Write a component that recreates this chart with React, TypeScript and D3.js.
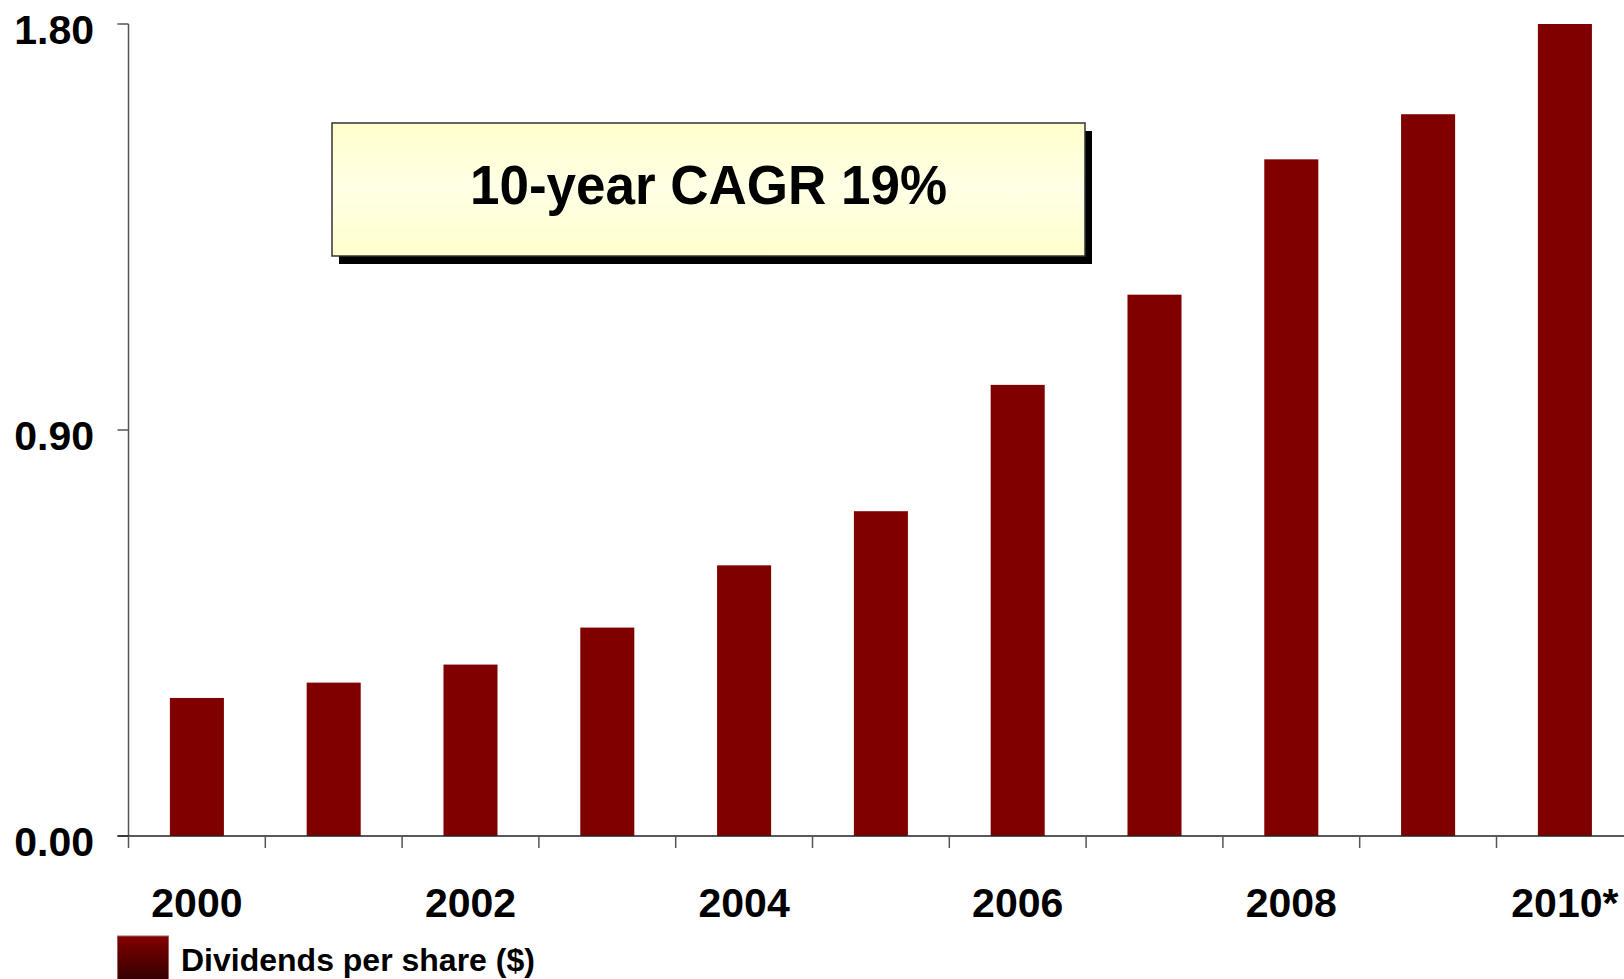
import React, { useEffect, useRef } from "react";
import * as d3 from "d3";

const years = ["2000", "2001", "2002", "2003", "2004", "2005", "2006", "2007", "2008", "2009", "2010*"];
const dividends = [0.306, 0.34, 0.38, 0.462, 0.6, 0.72, 1.0, 1.2, 1.5, 1.6, 1.8];
const yTicks = [0, 0.9, 1.8];
const labelledYears = ["2000", "2002", "2004", "2006", "2008", "2010*"];
const seriesName = "Dividends per share ($)";
const note = "10-year CAGR 19%";

const App = () => {
  const svgRef = useRef<SVGSVGElement>(null);

  useEffect(() => {
    const svg = d3.select(svgRef.current);
    svg.selectAll("*").remove();

    const font = "'Liberation Sans', Arial, Helvetica, sans-serif";
    const left = 128.5,
      step = 136.8,
      top = 24,
      bottom = 836;

    const x = d3
      .scaleBand<string>()
      .domain(years)
      .range([left, left + step * years.length])
      .padding(0);
    const y = d3.scaleLinear().domain([0, 1.8]).range([bottom, top]);

    const defs = svg.append("defs");
    const boxGrad = defs
      .append("linearGradient")
      .attr("id", "boxGrad")
      .attr("x1", 0)
      .attr("y1", 0)
      .attr("x2", 0)
      .attr("y2", 1);
    boxGrad.append("stop").attr("offset", "0%").attr("stop-color", "#ffffcc");
    boxGrad.append("stop").attr("offset", "50%").attr("stop-color", "#ffffe6");
    boxGrad.append("stop").attr("offset", "100%").attr("stop-color", "#ffffcc");

    const legGrad = defs
      .append("linearGradient")
      .attr("id", "legGrad")
      .attr("x1", 0)
      .attr("y1", 0)
      .attr("x2", 0)
      .attr("y2", 1);
    legGrad.append("stop").attr("offset", "0%").attr("stop-color", "#820000");
    legGrad.append("stop").attr("offset", "100%").attr("stop-color", "#2a0000");

    // bars
    const bw = x.bandwidth() * 0.395;
    svg
      .append("g")
      .selectAll("rect")
      .data(dividends)
      .enter()
      .append("rect")
      .attr("x", (d, i) => x(years[i])! + (x.bandwidth() - bw) / 2)
      .attr("y", (d) => y(d))
      .attr("width", bw)
      .attr("height", (d) => y(0) - y(d))
      .attr("fill", "#800000");

    // y axis
    svg
      .append("line")
      .attr("x1", left)
      .attr("x2", left)
      .attr("y1", top)
      .attr("y2", bottom)
      .attr("stroke", "#555")
      .attr("stroke-width", 1.5);
    const yt = svg.append("g").selectAll("g").data(yTicks).enter().append("g");
    yt.append("line")
      .attr("x1", left - 11)
      .attr("x2", left)
      .attr("y1", (d) => y(d))
      .attr("y2", (d) => y(d))
      .attr("stroke", "#555")
      .attr("stroke-width", 1.5);
    yt.append("text")
      .attr("x", 94)
      .attr("y", (d) => y(d) + 20)
      .attr("text-anchor", "end")
      .attr("font-family", font)
      .attr("font-weight", "bold")
      .attr("font-size", 41)
      .attr("fill", "#000")
      .text((d) => d3.format(".2f")(d));

    // x axis
    svg
      .append("line")
      .attr("x1", left - 11)
      .attr("x2", 1624)
      .attr("y1", bottom)
      .attr("y2", bottom)
      .attr("stroke", "#222")
      .attr("stroke-width", 1.3);
    svg
      .append("g")
      .selectAll("line")
      .data(years)
      .enter()
      .append("line")
      .attr("x1", (d) => x(d)!)
      .attr("x2", (d) => x(d)!)
      .attr("y1", bottom)
      .attr("y2", bottom + 12)
      .attr("stroke", "#555")
      .attr("stroke-width", 1.5);
    svg
      .append("g")
      .selectAll("text")
      .data(labelledYears)
      .enter()
      .append("text")
      .attr("x", (d) => x(d)! + x.bandwidth() / 2)
      .attr("y", 917)
      .attr("text-anchor", "middle")
      .attr("font-family", font)
      .attr("font-weight", "bold")
      .attr("font-size", 41)
      .attr("fill", "#000")
      .text((d) => d);

    // CAGR box
    const bx = 332,
      by = 123,
      bwid = 753,
      bh = 133;
    svg
      .append("rect")
      .attr("x", bx + 7)
      .attr("y", by + 8)
      .attr("width", bwid)
      .attr("height", bh)
      .attr("fill", "#000");
    svg
      .append("rect")
      .attr("x", bx)
      .attr("y", by)
      .attr("width", bwid)
      .attr("height", bh)
      .attr("fill", "url(#boxGrad)")
      .attr("stroke", "#333")
      .attr("stroke-width", 1.5);
    svg
      .append("text")
      .attr("x", bx + bwid / 2)
      .attr("y", 204)
      .attr("text-anchor", "middle")
      .attr("font-family", font)
      .attr("font-weight", "bold")
      .attr("font-size", 56)
      .attr("textLength", 477)
      .attr("lengthAdjust", "spacingAndGlyphs")
      .attr("fill", "#000")
      .text(note);

    // legend
    svg
      .append("rect")
      .attr("x", 117.5)
      .attr("y", 936)
      .attr("width", 51)
      .attr("height", 50)
      .attr("fill", "url(#legGrad)")
      .attr("stroke", "#a06060")
      .attr("stroke-width", 1);
    svg
      .append("text")
      .attr("x", 181)
      .attr("y", 971)
      .attr("font-family", font)
      .attr("font-weight", "bold")
      .attr("font-size", 32)
      .attr("fill", "#000")
      .text(seriesName);
  }, []);

  return (
    <svg
      ref={svgRef}
      width={1624}
      height={979}
      style={{ position: "absolute", left: 0, top: 0, display: "block", background: "#fff" }}
    ></svg>
  );
};

export default App;
